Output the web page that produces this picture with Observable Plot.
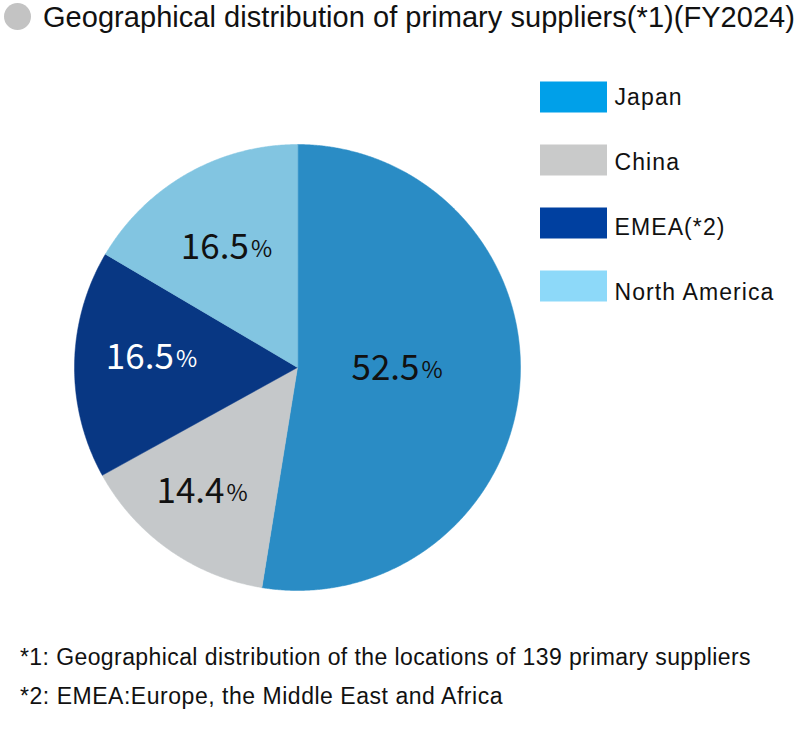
<!DOCTYPE html>
<html>
<head>
<meta charset="utf-8">
<script src="https://cdn.jsdelivr.net/npm/d3@7"></script>
<script src="https://cdn.jsdelivr.net/npm/@observablehq/plot@0.6"></script>
<style>
  body { margin: 0; background: #fff; }
  #wrap { position: relative; width: 810px; height: 730px; overflow: hidden; font-family: "Liberation Sans", Arial, sans-serif; color: #111; }
  #dot { position: absolute; left: 4px; top: 3px; width: 27px; height: 27px; border-radius: 50%; background: #c3c3c3; }
  #ttext { position: absolute; left: 43px; top: -3px; font-size: 29px; white-space: nowrap; line-height: 40px; }
  #chart { position: absolute; left: 0; top: 45px; }
  .note { position: absolute; left: 20px; font-size: 23px; white-space: nowrap; line-height: 26px; }
</style>
</head>
<body>
<div id="wrap">
  <div id="dot"></div>
  <span id="ttext">Geographical distribution of primary suppliers(*1)(FY2024)</span>
  <div id="chart"></div>
  <span class="note" id="n1" style="top:644px">*1: Geographical distribution of the locations of 139 primary suppliers</span>
  <span class="note" id="n2" style="top:683px">*2: EMEA:Europe, the Middle East and Africa</span>
</div>
<script>
const categories = ["Japan", "China", "EMEA(*2)", "North America"];
const shares = [52.5, 14.4, 16.5, 16.5];
const shareLabels = ["52.5", "14.4", "16.5", "16.5"];
const sliceColors = ["#2a8cc5", "#c5c8ca", "#083783", "#82c5e1"];
const legendColors = ["#00a0e9", "#c9caca", "#0040a0", "#8dd9f9"];
const labelColors = ["#111", "#111", "#fff", "#111"];

// layout
const W = 810, H = 585;
const cx = 297, cy = 322, R = 223;
const labelRadius = [0.453, 0.70, 0.65, 0.62];
const labelAngleShift = [-3.9, 1.9, 3.1, -0.5];
const legendX1 = 540, legendX2 = 607, legendY0 = 52, legendStep = 63, legendH = 31;
const legendTextY0 = 52.5, legendTextStep = 65;

const arcs = d3.pie().sort(null).value(d => d)(shares);
const polyPts = [];
arcs.forEach((a, i) => {
  polyPts.push({i, x: cx, y: cy});
  const n = Math.max(2, Math.ceil((a.endAngle - a.startAngle) / 0.005));
  for (let k = 0; k <= n; k++) {
    const t = a.startAngle + (a.endAngle - a.startAngle) * k / n;
    polyPts.push({i, x: cx + R * Math.sin(t), y: cy - R * Math.cos(t)});
  }
});
const labels = arcs.map((a, i) => {
  const m = (a.startAngle + a.endAngle) / 2 + labelAngleShift[i] * Math.PI / 180;
  const r = R * labelRadius[i];
  return {i, x: cx + r * Math.sin(m), y: cy - r * Math.cos(m), num: shareLabels[i]};
});
const legend = categories.map((c, i) => ({i, c, y: legendY0 + i * legendStep, ty: legendTextY0 + i * legendTextStep}));

const plot = Plot.plot({
  width: W, height: H,
  margin: 0,
  x: {domain: [0, W], range: [0, W], axis: null},
  y: {domain: [0, H], range: [0, H], axis: null},
  marks: [
    Plot.line(polyPts, {x: "x", y: "y", z: "i", fill: d => sliceColors[d.i], stroke: d => sliceColors[d.i], strokeWidth: 0.5, curve: "linear-closed"}),
    Plot.text(labels, {x: "x", y: "y", text: "num", dx: 21, textAnchor: "end", fontSize: 35, fill: d => labelColors[d.i], fontFamily: "Noto Sans CJK JP"}),
    Plot.text(labels, {x: "x", y: "y", text: d => "%", dx: 23, dy: 2, textAnchor: "start", fontSize: 23, fill: d => labelColors[d.i], fontFamily: "Noto Sans CJK JP"}),
    Plot.rect(legend, {x1: legendX1, x2: legendX2, y1: d => d.y - legendH / 2, y2: d => d.y + legendH / 2, fill: d => legendColors[d.i]}),
    Plot.text(legend, {x: legendX2 + 7, y: "ty", text: "c", textAnchor: "start", fontSize: 23, fill: "#111", fontFamily: "Liberation Sans, Arial, sans-serif"})
  ]
});
document.getElementById("chart").appendChild(plot);

// fit widths with letter-spacing
function fitSpan(id, target) {
  const el = document.getElementById(id);
  el.style.letterSpacing = "0px";
  const w = el.getBoundingClientRect().width;
  const n = el.textContent.length;
  el.style.letterSpacing = ((target - w) / n) + "px";
}
fitSpan("ttext", 752);
fitSpan("n1", 731);
fitSpan("n2", 483);
const textGroups = plot.querySelectorAll('g[aria-label="text"]');
const legendTexts = textGroups[textGroups.length - 1].querySelectorAll("text");
const na = legendTexts[legendTexts.length - 1];
const ls = (160 - na.getComputedTextLength()) / na.textContent.length;
legendTexts.forEach(t => t.setAttribute("letter-spacing", ls));
</script>
</body>
</html>
